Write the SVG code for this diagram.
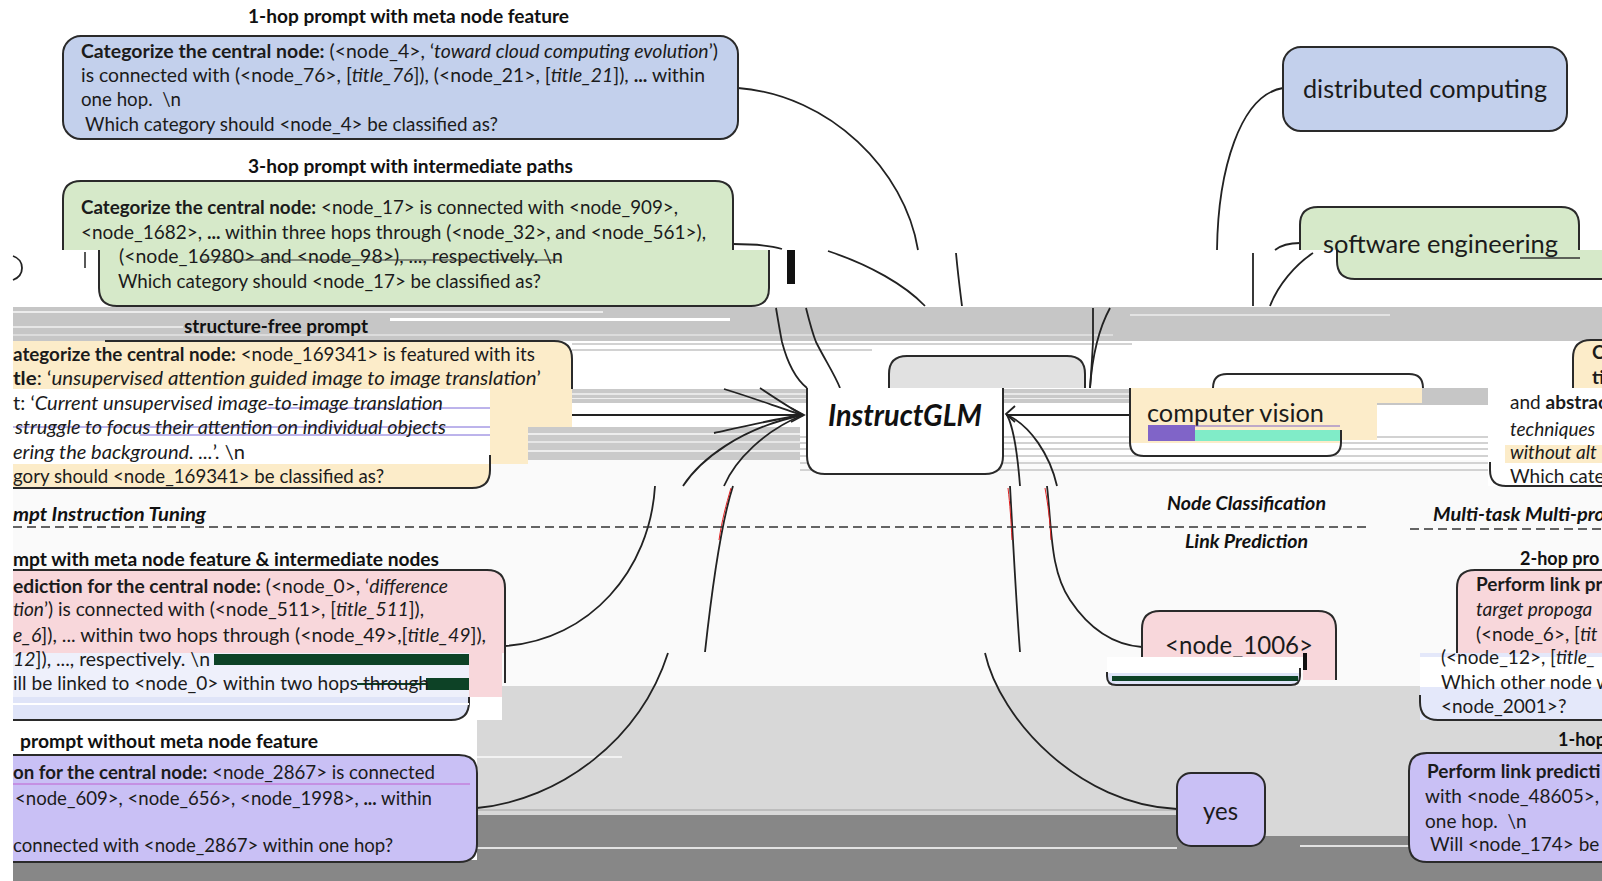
<svg xmlns="http://www.w3.org/2000/svg" width="1602" height="881" viewBox="0 0 1602 881">
  <style>
    .t { font-family: Lato, "Open Sans", "Liberation Sans", sans-serif; font-size: 19px; fill: #1b1b1b; }
    .b { font-weight: 700; }
    .i { font-style: italic; }
    .ttl { font-family: Lato, "Open Sans", "Liberation Sans", sans-serif; font-size: 18px; font-weight: 700; fill: #111; }
    .lbl { font-family: Lato, "Open Sans", "Liberation Sans", sans-serif; font-size: 25px; fill: #1b1b1b; }
    .edge { fill: none; stroke: #222; stroke-width: 1.8; }
    .bd { stroke: #2a2a2a; stroke-width: 2; }
    .nos { stroke: none; }
    .blue { fill: #c3d0ec; }
    .green { fill: #d6e9c9; }
    .yellow { fill: #fcecc9; }
    .pink { fill: #f8d7db; }
    .lav { fill: #c9c0f5; }
    .lav2 { fill: #dfe4f8; }
    .dash { fill: none; stroke: #333; stroke-width: 1.7; stroke-dasharray: 9 5; }
    .sg { fill: #d2d2d2; }
    .dg { fill: #0d4226; }
  </style>

  <!-- background bands -->
  <g id="background">
    <rect width="1602" height="881" fill="#ffffff"/>
    <rect x="13" y="460" width="1589" height="226" fill="#fafafa"/>
    <rect x="502" y="686" width="1100" height="34" fill="#d8d8d8"/>
    <rect x="477" y="720" width="1125" height="96" fill="#d8d8d8"/>
    <rect x="477" y="756" width="145" height="2" fill="#f2f2f2"/>
    <rect x="477" y="815" width="1125" height="66" fill="#878787"/>
    <rect x="13" y="860" width="470" height="21" fill="#878787"/>
    <rect x="1265" y="815" width="144" height="21" fill="#d8d8d8"/>
    <rect x="477" y="847" width="700" height="2" fill="#e2e2e2"/>
    <rect x="1300" y="845" width="109" height="2" fill="#e2e2e2"/>
    <rect x="477" y="809" width="700" height="2" fill="#bdbdbd"/>
    <!-- grey band under the 3-hop block -->
    <rect x="13" y="307" width="1589" height="34" fill="#c6c6c6"/>
    <rect x="13" y="311" width="590" height="2" fill="#ececec"/>
    <rect x="390" y="318" width="340" height="3" fill="#ffffff"/>
    <rect x="13" y="326" width="170" height="2" fill="#e6e6e6"/>
    <rect x="1130" y="314" width="260" height="2" fill="#e3e3e3"/>
    <rect x="13" y="334" width="1100" height="2" fill="#dcdcdc"/>
    <!-- striped rows around the central block -->
    <rect x="572" y="343" width="560" height="2" class="sg"/>
    <rect x="572" y="349" width="300" height="2" class="sg"/>
    <rect x="572" y="389" width="916" height="14" fill="#c9c9c9"/>
    <rect x="572" y="393" width="916" height="2" fill="#e8e8e8"/>
    <rect x="572" y="398" width="916" height="1" fill="#efefef"/>
    <rect x="528" y="427" width="272" height="33" fill="#cacaca"/>
    <rect x="528" y="433" width="272" height="2" fill="#ededed"/>
    <rect x="528" y="441" width="272" height="2" fill="#e6e6e6"/>
    <rect x="528" y="450" width="272" height="2" fill="#ededed"/>
    <rect x="800" y="436" width="688" height="2" class="sg"/>
    <rect x="800" y="442" width="688" height="2" class="sg"/>
    <rect x="800" y="448" width="688" height="2" class="sg"/>
    <rect x="800" y="455" width="688" height="2" class="sg"/>
    <rect x="800" y="462" width="688" height="2" class="sg"/>
    <rect x="800" y="469" width="688" height="2" class="sg"/>
    <rect x="1350" y="388" width="138" height="17" fill="#c6c6c6"/>
  </g>

  <!-- connectors -->
  <g id="connectors">
    <path class="edge" d="M738,88 C830,95 905,170 918,250"/>
    <path class="edge" d="M733,244 C755,244 772,246 782,249"/>
    <path class="edge" d="M1283,88 C1240,95 1218,170 1217,250"/>
    <path class="edge" d="M1300,243 C1290,243 1280,246 1275,250"/>
    <path class="edge" d="M828,251 C870,265 905,285 925,306"/>
    <path class="edge" d="M956,253 C958,275 960,290 962,306"/>
    <path class="edge" d="M1253,253 L1253,306"/>
    <path class="edge" d="M1313,253 C1295,265 1278,285 1270,306"/>
    <path class="edge" d="M776,308 C778,320 780,332 782,342 C788,365 797,380 807,388"/>
    <path class="edge" d="M806,308 C809,320 812,332 816,342 C825,360 835,375 840,388"/>
    <path class="edge" d="M1093,308 L1093,342 C1092,360 1091,375 1090,388"/>
    <path class="edge" d="M1110,308 C1098,330 1092,360 1090,388"/>
    <!-- into the left side of InstructGLM -->
    <path class="edge" d="M724,389 C760,400 785,410 803,415"/>
    <path class="edge" d="M760,388 C775,398 790,408 803,415"/>
    <path class="edge" d="M490,415 H803"/>
    <path class="edge" d="M714,433 C750,425 780,418 803,415"/>
    <path class="edge" d="M683,486 C700,460 740,428 803,415"/>
    <path class="edge" d="M724,486 C735,460 765,430 803,415"/>
    <polyline class="edge" points="791,408 804,415 791,422"/>
    <!-- out of the right side -->
    <path class="edge" d="M1006,415 H1130"/>
    <path class="edge" d="M1007,415 C1015,430 1018,460 1020,486"/>
    <path class="edge" d="M1007,415 C1030,425 1050,455 1057,486"/>
    <polyline class="edge" points="1015,406 1006,414 1015,422"/>
    <!-- lower fan -->
    <path class="edge" d="M733,486 C722,520 714,570 705,652"/>
    <path d="M731,488 C726,505 722,520 719,540" fill="none" stroke="#e02020" stroke-width="1"/>
    <path class="edge" d="M1010,486 C1013,540 1016,600 1020,652"/>
    <path d="M1008,488 C1010,505 1011,520 1012,540" fill="none" stroke="#e02020" stroke-width="1"/>
    <path class="edge" d="M1047,486 C1052,530 1050,570 1070,600 C1090,630 1115,645 1142,647"/>
    <path d="M1045,488 C1048,505 1050,520 1051,540" fill="none" stroke="#e02020" stroke-width="1"/>
    <path class="edge" d="M505,646 C590,640 650,570 655,486"/>
    <path class="edge" d="M477,808 C560,800 640,740 668,653"/>
    <path class="edge" d="M985,653 C1000,720 1080,805 1177,809"/>
    <!-- task separators -->
    <path class="dash" d="M13,527 H1370"/>
    <path class="dash" d="M1410,529 H1602"/>
  </g>

  <!-- 1-hop prompt with meta node feature -->
  <g id="prompt-1hop-meta">
    <text class="ttl" x="248" y="23" textLength="321" lengthAdjust="spacingAndGlyphs">1-hop prompt with meta node feature</text>
    <rect x="63" y="36" width="675" height="103" rx="18" class="blue bd"/>
    <text class="t" x="81" y="58" textLength="637" lengthAdjust="spacingAndGlyphs"><tspan class="b">Categorize the central node:</tspan> (&lt;node_4&gt;, ‘<tspan class="i">toward cloud computing evolution</tspan>’)</text>
    <text class="t" x="81" y="82" textLength="624" lengthAdjust="spacingAndGlyphs">is connected with (&lt;node_76&gt;, [<tspan class="i">title_76</tspan>]), (&lt;node_21&gt;, [<tspan class="i">title_21</tspan>]), <tspan class="b">...</tspan> within</text>
    <text class="t" x="81" y="106" textLength="100" lengthAdjust="spacingAndGlyphs">one hop.&#160; \n</text>
    <text class="t" x="85" y="131" textLength="413" lengthAdjust="spacingAndGlyphs">Which category should &lt;node_4&gt; be classified as?</text>
  </g>

  <!-- 3-hop prompt with intermediate paths -->
  <g id="prompt-3hop-paths">
    <text class="ttl" x="248" y="173" textLength="325" lengthAdjust="spacingAndGlyphs">3-hop prompt with intermediate paths</text>
    <path class="green bd" d="M63,250 V199 Q63,181 81,181 H715 Q733,181 733,199 V250"/>
    <path class="green bd" d="M99,250 V288 Q99,306 117,306 H751 Q769,306 769,288 V250"/>
    <text class="t" x="81" y="214" textLength="597" lengthAdjust="spacingAndGlyphs"><tspan class="b">Categorize the central node:</tspan> &lt;node_17&gt; is connected with &lt;node_909&gt;,</text>
    <text class="t" x="81" y="239" textLength="625" lengthAdjust="spacingAndGlyphs">&lt;node_1682&gt;, <tspan class="b">...</tspan> within three hops through (&lt;node_32&gt;, and &lt;node_561&gt;),</text>
    <text class="t" x="119" y="263" textLength="444" lengthAdjust="spacingAndGlyphs">(&lt;node_16980&gt; and &lt;node_98&gt;), ..., respectively. \n</text>
    <path d="M200,260 H560" stroke="#333" stroke-width="1"/>
    <text class="t" x="118" y="288" textLength="423" lengthAdjust="spacingAndGlyphs">Which category should &lt;node_17&gt; be classified as?</text>
    <path d="M85,252 V268" stroke="#222" stroke-width="1.5"/>
    <path d="M13,256 C19,258 22,263 22,268 C22,274 18,278 13,280" fill="none" stroke="#222" stroke-width="1.8"/>
    <rect x="787" y="250" width="8" height="34" fill="#111"/>
  </g>

  <!-- structure-free prompt -->
  <g id="prompt-structure-free">
    <text class="ttl" x="184" y="333" textLength="184" lengthAdjust="spacingAndGlyphs">structure-free prompt</text>
    <path class="yellow nos" d="M13,341 H554 Q572,341 572,359 V389 H13 Z"/>
    <path class="bd" fill="none" d="M105,341 H554 Q572,341 572,359 V389"/>
    <rect x="13" y="389" width="477" height="75" fill="#ffffff"/>
    <rect x="490" y="389" width="82" height="38" class="yellow"/>
    <rect x="490" y="427" width="38" height="37" class="yellow"/>
    <path class="yellow nos" d="M13,464 H490 V470 Q490,488 472,488 H13 Z"/>
    <path class="bd" fill="none" d="M490,455 V470 Q490,488 472,488 H13"/>
    <path d="M265,408 H490 M13,427 H490 M140,435 H490" stroke="#7b68d8" stroke-width="1"/>
    <text class="t" x="13" y="361" textLength="522" lengthAdjust="spacingAndGlyphs"><tspan class="b">ategorize the central node:</tspan> &lt;node_169341&gt; is featured with its</text>
    <text class="t" x="13" y="385" textLength="528" lengthAdjust="spacingAndGlyphs"><tspan class="b">tle</tspan>: ‘<tspan class="i">unsupervised attention guided image to image translation</tspan>’</text>
    <text class="t" x="13" y="410" textLength="430" lengthAdjust="spacingAndGlyphs">t: ‘<tspan class="i">Current unsupervised image-to-image translation</tspan></text>
    <text class="t i" x="15" y="434" textLength="431" lengthAdjust="spacingAndGlyphs">struggle to focus their attention on individual objects</text>
    <text class="t" x="13" y="459" textLength="232" lengthAdjust="spacingAndGlyphs"><tspan class="i">ering the background. ...</tspan>’. \n</text>
    <text class="t" x="13" y="483" textLength="371" lengthAdjust="spacingAndGlyphs">gory should &lt;node_169341&gt; be classified as?</text>
  </g>

  <!-- task labels -->
  <g id="task-labels">
    <text class="ttl i" x="13" y="521" textLength="193" lengthAdjust="spacingAndGlyphs">mpt Instruction Tuning</text>
    <text class="ttl i" x="1167" y="510" textLength="159" lengthAdjust="spacingAndGlyphs">Node Classification</text>
    <text class="ttl i" x="1185" y="548" textLength="123" lengthAdjust="spacingAndGlyphs">Link Prediction</text>
    <text class="ttl i" x="1433" y="521" textLength="172" lengthAdjust="spacingAndGlyphs">Multi-task Multi-pro</text>
  </g>

  <!-- 2-hop link prompt with meta node feature & intermediate nodes -->
  <g id="prompt-2hop-link">
    <text class="ttl" x="13" y="566" textLength="426" lengthAdjust="spacingAndGlyphs">mpt with meta node feature &amp; intermediate nodes</text>
    <path class="pink nos" d="M13,570 H487 Q505,570 505,588 V653 H13 Z"/>
    <path class="bd" fill="none" d="M13,570 H487 Q505,570 505,588 V683"/>
    <rect x="13" y="653" width="456" height="44" fill="#eef0fb"/>
    <rect x="469" y="653" width="33" height="44" class="pink"/>
    <path class="lav2 nos" d="M13,697 H469 V702 Q469,720 451,720 H13 Z"/>
    <path class="bd" fill="none" d="M469,697 V702 Q469,720 451,720 H13"/>
    <rect x="13" y="703" width="456" height="2" fill="#ffffff"/>
    <rect x="214" y="654" width="255" height="11" class="dg"/>
    <rect x="426" y="678" width="43" height="12" class="dg"/>
    <path d="M357,684 H426" stroke="#0d4226" stroke-width="2"/>
    <text class="t" x="13" y="593" textLength="435" lengthAdjust="spacingAndGlyphs"><tspan class="b">ediction for the central node:</tspan> (&lt;node_0&gt;, ‘<tspan class="i">difference</tspan></text>
    <text class="t" x="13" y="616" textLength="411" lengthAdjust="spacingAndGlyphs"><tspan class="i">tion</tspan>’) is connected with (&lt;node_511&gt;, [<tspan class="i">title_511</tspan>]),</text>
    <text class="t" x="13" y="642" textLength="473" lengthAdjust="spacingAndGlyphs"><tspan class="i">e_6</tspan>]), ... within two hops through (&lt;node_49&gt;,[<tspan class="i">title_49</tspan>]),</text>
    <text class="t" x="13" y="666" textLength="197" lengthAdjust="spacingAndGlyphs"><tspan class="i">12</tspan>]), ..., respectively. \n</text>
    <text class="t" x="13" y="690" textLength="416" lengthAdjust="spacingAndGlyphs">ill be linked to &lt;node_0&gt; within two hops through</text>
  </g>

  <!-- 1-hop link prompt without meta node feature -->
  <g id="prompt-1hop-link">
    <text class="ttl" x="20" y="748" textLength="298" lengthAdjust="spacingAndGlyphs">prompt without meta node feature</text>
    <path class="lav bd" d="M13,755 H459 Q477,755 477,773 V844 Q477,862 459,862 H13"/>
    <path d="M13,784 H470" stroke="#c060d0" stroke-width="1"/>
    <text class="t" x="13" y="779" textLength="422" lengthAdjust="spacingAndGlyphs"><tspan class="b">on for the central node:</tspan> &lt;node_2867&gt; is connected</text>
    <text class="t" x="15" y="805" textLength="417" lengthAdjust="spacingAndGlyphs">&lt;node_609&gt;, &lt;node_656&gt;, &lt;node_1998&gt;, <tspan class="b">...</tspan> within</text>
    <text class="t" x="13" y="852" textLength="380" lengthAdjust="spacingAndGlyphs">connected with &lt;node_2867&gt; within one hop?</text>
  </g>

  <!-- central model -->
  <g id="instructglm">
    <path class="bd" fill="#e1e1e1" d="M889,388 V374 Q889,356 907,356 H1067 Q1085,356 1085,374 V388"/>
    <path class="bd" fill="#ffffff" d="M807,388 V456 Q807,474 825,474 H985 Q1003,474 1003,456 V388"/>
    <text x="828" y="426" textLength="154" lengthAdjust="spacingAndGlyphs" font-family="Lato, 'Open Sans', 'Liberation Sans', sans-serif" font-size="30" font-weight="700" font-style="italic" fill="#111">InstructGLM</text>
  </g>

  <!-- answers -->
  <g id="answer-distributed-computing">
    <rect x="1283" y="47" width="284" height="84" rx="18" class="blue bd"/>
    <text class="lbl" x="1303" y="98" textLength="244" lengthAdjust="spacingAndGlyphs">distributed computing</text>
  </g>

  <g id="answer-software-engineering">
    <path class="green bd" d="M1300,250 V225 Q1300,207 1318,207 H1561 Q1579,207 1579,225 V250"/>
    <path class="green bd" d="M1337,250 V261 Q1337,279 1355,279 H1604 V250"/>
    <text class="lbl" x="1323" y="253" textLength="235" lengthAdjust="spacingAndGlyphs">software engineering</text>
    <path d="M1520,258 H1580" stroke="#333" stroke-width="1.5"/>
  </g>

  <g id="answer-computer-vision">
    <path fill="#ffffff" class="bd" d="M1213,388 Q1213,374 1227,374 H1409 Q1423,374 1423,388"/>
    <rect x="1341" y="388" width="81" height="15" class="yellow"/>
    <rect x="1341" y="403" width="36" height="37" class="yellow"/>
    <path fill="#ffffff" class="nos" d="M1130,388 V442 Q1130,456 1144,456 H1327 Q1341,456 1341,442 V388 Z"/>
    <rect x="1130" y="388" width="211" height="55" class="yellow"/>
    <path class="bd" fill="none" d="M1130,388 V442 Q1130,456 1144,456 H1327 Q1341,456 1341,442 V430"/>
    <text class="lbl" x="1147" y="422" textLength="177" lengthAdjust="spacingAndGlyphs">computer vision</text>
    <rect x="1148" y="425" width="47" height="16" fill="#8064c8"/>
    <rect x="1195" y="430" width="145" height="11" fill="#80ecc8"/>
    <path d="M1195,426 H1340" stroke="#8064c8" stroke-width="1.2"/>
  </g>

  <g id="answer-node-1006">
    <path class="pink nos" d="M1142,657 V629 Q1142,611 1160,611 H1318 Q1336,611 1336,629 V680 H1303 V657 Z"/>
    <path class="bd" fill="none" d="M1142,657 V629 Q1142,611 1160,611 H1318 Q1336,611 1336,629 V680"/>
    <text class="lbl" x="1165" y="654" textLength="148" lengthAdjust="spacingAndGlyphs">&lt;node_1006&gt;</text>
    <rect x="1107" y="657" width="196" height="16" fill="#ffffff"/>
    <path class="lav2 nos" d="M1107,673 V676 Q1107,685 1116,685 H1291 Q1300,685 1300,676 V673 Z"/>
    <rect x="1112" y="676" width="186" height="5" class="dg"/>
    <path class="bd" fill="none" d="M1107,672 V676 Q1107,685 1116,685 H1291 Q1300,685 1300,676 V668"/>
    <rect x="1303" y="653" width="4" height="17" fill="#111"/>
  </g>

  <g id="answer-yes">
    <rect x="1177" y="773" width="88" height="73" rx="14" class="lav bd"/>
    <text class="lbl" x="1203" y="820" textLength="35" lengthAdjust="spacingAndGlyphs">yes</text>
  </g>

  <!-- multi-task column on the right edge -->
  <g id="multi-structure-free">
    <path class="yellow bd" d="M1573,388 V358 Q1573,340 1591,340 H1604 V388"/>
    <rect x="1488" y="388" width="114" height="98" fill="#ffffff"/>
    <rect x="1505" y="445" width="97" height="18" class="yellow"/>
    <path class="bd" fill="none" d="M1490,462 V470 Q1490,486 1506,486 H1604"/>
    <text class="t b" x="1592" y="359">C</text>
    <text class="t b" x="1592" y="384">ti</text>
    <text class="t" x="1510" y="409">and <tspan class="b">abstrac</tspan></text>
    <text class="t i" x="1510" y="436">techniques</text>
    <text class="t i" x="1510" y="459">without alt</text>
    <text class="t" x="1510" y="483">Which cate</text>
  </g>

  <g id="multi-2hop-link">
    <text class="ttl" x="1520" y="565">2-hop pro</text>
    <path class="pink bd" d="M1457,653 V588 Q1457,570 1475,570 H1604 V653"/>
    <rect x="1420" y="653" width="182" height="67" fill="#e4e8fa"/>
    <rect x="1420" y="657" width="182" height="30" fill="#ffffff"/>
    <path class="bd" fill="none" d="M1420,695 V702 Q1420,720 1438,720 H1604"/>
    <text class="t b" x="1476" y="591">Perform link pr</text>
    <text class="t i" x="1476" y="616">target propoga</text>
    <text class="t" x="1476" y="641">(&lt;node_6&gt;, [<tspan class="i">tit</tspan></text>
    <text class="t" x="1441" y="664">(&lt;node_12&gt;, [<tspan class="i">title_</tspan></text>
    <text class="t" x="1441" y="689">Which other node w</text>
    <text class="t" x="1441" y="713">&lt;node_2001&gt;?</text>
  </g>

  <g id="multi-1hop-link">
    <text class="ttl" x="1558" y="746">1-hop</text>
    <path class="lav bd" d="M1604,753 H1427 Q1409,753 1409,771 V844 Q1409,862 1427,862 H1604"/>
    <text class="t b" x="1427" y="778">Perform link predicti</text>
    <text class="t" x="1425" y="803">with &lt;node_48605&gt;,</text>
    <text class="t" x="1425" y="828">one hop.&#160; \n</text>
    <text class="t" x="1430" y="851">Will &lt;node_174&gt; be</text>
  </g>
</svg>
